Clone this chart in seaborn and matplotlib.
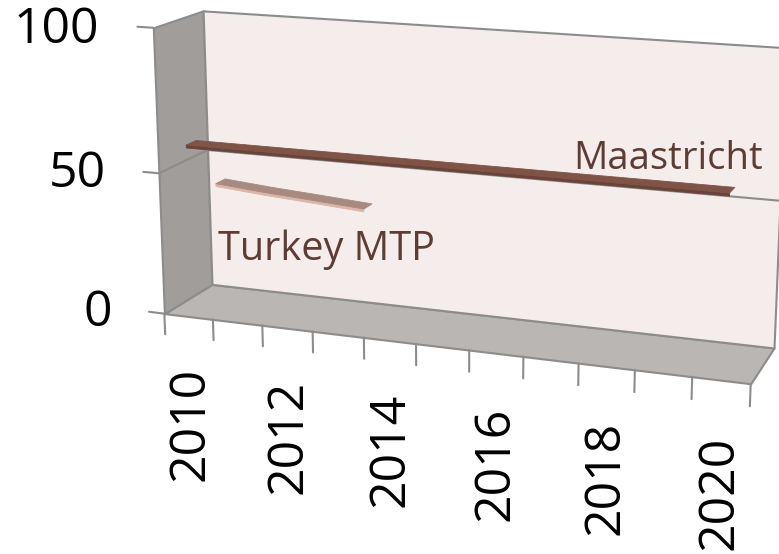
import numpy as np
import pandas as pd
import seaborn as sns
import matplotlib.pyplot as plt
from mpl_toolkits.mplot3d import proj3d
from mpl_toolkits.mplot3d.art3d import Poly3DCollection

# Values (debt in % of GDP)
years = [2010, 2011, 2012, 2013, 2014, 2015, 2016, 2017, 2018, 2019, 2020]
year_labels = [2010, 2012, 2014, 2016, 2018, 2020]
maastricht = [60, 60, 60, 60, 60, 60, 60, 60, 60, 60, 60]
turkey_years = [2010, 2011, 2012, 2013]
turkey_mtp = [41.5, 40, 38.8, 37.5]
value_ticks = [0, 50, 100]

debt_df = pd.concat([
    pd.DataFrame({'year': years, 'value': maastricht, 'series': 'Maastricht'}),
    pd.DataFrame({'year': turkey_years, 'value': turkey_mtp, 'series': 'Turkey MTP'}),
])

sns.set_theme(style='white')
plt.rcParams['font.family'] = ['Open Sans', 'DejaVu Sans']

# series styling: depth start, top face colour, front face colour
depth_start = {'Maastricht': 0.15, 'Turkey MTP': 1.3}
top_colors = dict(zip(depth_start, sns.color_palette(['#7f5346', '#a88a80'])))
side_colors = dict(zip(depth_start, sns.color_palette(['#6a4338', '#dcb5a8'])))
text_color = '#5e3c32'
edge_color = '#8c8c8c'

fig = plt.figure(figsize=(7.79, 5.54), dpi=100)
side = 690
ax = fig.add_axes([107 / 779, 13 / 554, side / 779, side / 554], projection='3d')
ax.set_proj_type('persp', focal_length=0.54)
ax.view_init(elev=14.5, azim=-70)
ax.set_box_aspect((624, 110, 304), zoom=0.9835)
ax.computed_zorder = False
ax.set_axis_off()

x_lo, x_hi = -0.5, len(years) - 0.5
d_lo, d_hi = 0, 2
z_lo, z_hi = value_ticks[0], value_ticks[-1]

# walls: floor, left side and back
walls = [
    ([(x_lo, d_lo, z_lo), (x_hi, d_lo, z_lo), (x_hi, d_hi, z_lo), (x_lo, d_hi, z_lo)], '#b9b6b3'),
    ([(x_lo, d_lo, z_lo), (x_lo, d_hi, z_lo), (x_lo, d_hi, z_hi), (x_lo, d_lo, z_hi)], '#a09d9b'),
    ([(x_lo, d_hi, z_lo), (x_hi, d_hi, z_lo), (x_hi, d_hi, z_hi), (x_lo, d_hi, z_hi)], '#f5edeb'),
]
for verts, col in walls:
    ax.add_collection3d(Poly3DCollection([verts], facecolor=col, edgecolor=edge_color,
                                         linewidth=1.5, zorder=1))

# gridlines on the walls (inner ticks only)
for v in value_ticks[1:-1]:
    ax.plot([x_lo, x_lo, x_hi], [d_lo, d_hi, d_hi], [v, v, v], color=edge_color, lw=1.5, zorder=2)

# value ticks on the front left edge, category ticks on the front edge
for v in value_ticks:
    ax.plot([x_lo, x_lo - 0.32], [d_lo, d_lo], [v, v], color=edge_color, lw=1.5, zorder=2)
for b in np.arange(x_lo, x_hi + 0.01, 1):
    ax.plot([b, b], [d_lo, d_lo], [z_lo, z_lo - 7.5], color=edge_color, lw=1.5, zorder=2)

# ribbons for each series
ribbon_width, thick = 0.4, 1.0
for name, grp in debt_df.groupby('series'):
    xs = (grp['year'] - years[0]).to_numpy()
    vs = grp['value'].to_numpy()
    d0 = depth_start[name]
    d1 = d0 + ribbon_width
    tops, fronts = [], []
    for i in range(len(xs) - 1):
        tops.append([(xs[i], d0, vs[i]), (xs[i + 1], d0, vs[i + 1]),
                     (xs[i + 1], d1, vs[i + 1]), (xs[i], d1, vs[i])])
        fronts.append([(xs[i], d0, vs[i]), (xs[i + 1], d0, vs[i + 1]),
                       (xs[i + 1], d0, vs[i + 1] - thick), (xs[i], d0, vs[i] - thick)])
    ax.add_collection3d(Poly3DCollection(fronts, facecolor=side_colors[name],
                                         edgecolor=side_colors[name], lw=0.6, zorder=3))
    ax.add_collection3d(Poly3DCollection(tops, facecolor=top_colors[name],
                                         edgecolor=top_colors[name], lw=0.6, zorder=4))

ax.set_xlim(x_lo, x_hi)
ax.set_ylim(d_lo, d_hi)
ax.set_zlim(z_lo, z_hi)

# labels are placed at projected 3D points, drawn as upright 2D text
M = ax.get_proj()


def label(x, d, z, s, **kw):
    px, py, _ = proj3d.proj_transform(x, d, z, M)
    ax.text2D(px, py, s, transform=ax.transData, **kw)


for v in value_ticks:
    label(x_lo - 1.1, d_lo, v, str(v), ha='right', va='center_baseline', fontsize=36,
          color='black')
for yr in year_labels:
    label(yr - years[0], d_lo, z_lo - 18.5, str(yr), rotation=90, ha='center', va='top',
          fontsize=36, color='black')

# series name labels
label(len(years) - 1 + 0.5, depth_start['Maastricht'] + 0.2, maastricht[-1] + 7.5, 'Maastricht',
      ha='right', va='baseline', fontsize=27.5, color=text_color)
label(-0.1, depth_start['Turkey MTP'] + 0.2, turkey_mtp[0] - 29, 'Turkey MTP',
      ha='left', va='baseline', fontsize=28.5, color=text_color)

fig.savefig('out.png', dpi=100)
